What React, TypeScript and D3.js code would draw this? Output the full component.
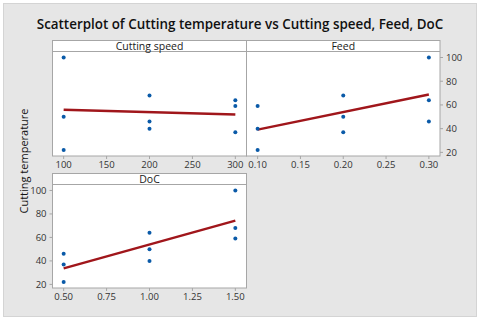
import * as d3 from 'd3';

// nine runs (L9 design)
const cuttingSpeed = [100, 100, 100, 200, 200, 200, 300, 300, 300];
const feed = [0.1, 0.2, 0.3, 0.1, 0.2, 0.3, 0.1, 0.2, 0.3];
const depthOfCut = [0.5, 1.0, 1.5, 1.0, 1.5, 0.5, 1.5, 0.5, 1.0];
const temperature = [22, 50, 100, 40, 68, 46, 59, 37, 64];

const speedTicks = [100, 150, 200, 250, 300];
const feedTicks = [0.1, 0.15, 0.2, 0.25, 0.3];
const docTicks = [0.5, 0.75, 1.0, 1.25, 1.5];
const tempTicks = [20, 40, 60, 80, 100];

const FONT = '"Segoe UI", "Open Sans", sans-serif';
const TEXT = '#333';
const BORDER = '#a6a6a6';

const pad = (ext: [number, number], p = 0.065): [number, number] => {
  const r = ext[1] - ext[0];
  return [ext[0] - r * p, ext[1] + r * p];
};

// least squares fit of temperature on one factor
const fit = (xs: number[], ys: number[]) => {
  const mx = d3.mean(xs)!;
  const my = d3.mean(ys)!;
  const sxy = d3.sum(xs, (x, i) => (x - mx) * (ys[i] - my));
  const sxx = d3.sum(xs, x => (x - mx) ** 2);
  const b = sxy / sxx;
  return (x: number) => my + b * (x - mx);
};

const yDomain = pad(d3.extent(temperature) as [number, number]);

type PanelProps = {
  title: string;
  xs: number[];
  ticks: number[];
  fmt: (v: number) => string;
  left: number;
  top: number;
  width: number;
  height: number;
  yAxis: 'left' | 'right' | null;
};

const HEADER = 11;

const Panel = ({title, xs, ticks, fmt, left, top, width, height, yAxis}: PanelProps) => {
  const plotTop = top + HEADER;
  const bottom = top + height;
  const x = d3.scaleLinear().domain(pad(d3.extent(xs) as [number, number])).range([left, left + width]);
  const y = d3.scaleLinear().domain(yDomain).range([bottom, plotTop]);
  const f = fit(xs, temperature);
  const [x0, x1] = d3.extent(xs) as [number, number];
  const line = d3.line<number>().x(v => x(v)).y(v => y(f(v)));

  return (
    <g>
      <rect x={left} y={top} width={width} height={height} fill="#fff" stroke={BORDER} strokeWidth={1} />
      <line x1={left} x2={left + width} y1={plotTop} y2={plotTop} stroke={BORDER} />
      <text x={left + width / 2} y={top + 9} textAnchor="middle" fontSize={10.5} fontWeight={500} fontFamily={FONT} fill="#1a1a1a">{title}</text>

      {ticks.map(t => (
        <g key={t}>
          <line x1={x(t)} x2={x(t)} y1={bottom} y2={bottom + 3} stroke={BORDER} />
          <text x={x(t)} y={bottom + 12} textAnchor="middle" fontSize={9.5} fontFamily={FONT} fill={TEXT}>{fmt(t)}</text>
        </g>
      ))}

      {yAxis === 'right' && tempTicks.map(t => (
        <g key={'y' + t}>
          <line x1={left + width} x2={left + width + 3} y1={y(t)} y2={y(t)} stroke={BORDER} />
          <text x={left + width + 6} y={y(t) + 3.5} fontSize={9.5} fontFamily={FONT} fill={TEXT}>{t}</text>
        </g>
      ))}
      {yAxis === 'left' && tempTicks.map(t => (
        <g key={'y' + t}>
          <line x1={left} x2={left - 3} y1={y(t)} y2={y(t)} stroke={BORDER} />
          <text x={left - 6} y={y(t) + 3.5} textAnchor="end" fontSize={9.5} fontFamily={FONT} fill={TEXT}>{t}</text>
        </g>
      ))}

      <path d={line([x0, x1]) ?? ''} fill="none" stroke="#a0161b" strokeWidth={2.5} />
      {xs.map((v, i) => (
        <circle key={i} cx={x(v)} cy={y(temperature[i])} r={2} fill="#0a5aa8" />
      ))}
    </g>
  );
};

export default function App() {
  const fmt2 = d3.format('.2f');
  return (
    <svg width={480} height={321} style={{position: 'absolute', left: 0, top: 0}}>
      <rect x={0} y={0} width={480} height={321} fill="#fff" />
      <rect x={3.5} y={3.5} width={473} height={313} fill="#e6e6e6" stroke="#d4d4d4" />
      <text x={240} y={28.5} textAnchor="middle" fontSize={13.4} fontWeight={600} fontFamily={FONT} fill="#111">
        Scatterplot of Cutting temperature vs Cutting speed, Feed, DoC
      </text>
      <text transform="translate(28,161) rotate(-90)" textAnchor="middle" fontSize={11} fontFamily={FONT} fill="#111">
        Cutting temperature
      </text>
      <Panel title="Cutting speed" xs={cuttingSpeed} ticks={speedTicks} fmt={d => String(d)}
        left={52.5} top={40.5} width={194} height={115.5} yAxis={null} />
      <Panel title="Feed" xs={feed} ticks={feedTicks} fmt={fmt2}
        left={246.5} top={40.5} width={193.5} height={115.5} yAxis="right" />
      <Panel title="DoC" xs={depthOfCut} ticks={docTicks} fmt={fmt2}
        left={52.5} top={173.5} width={194} height={114.5} yAxis="left" />
    </svg>
  );
}
